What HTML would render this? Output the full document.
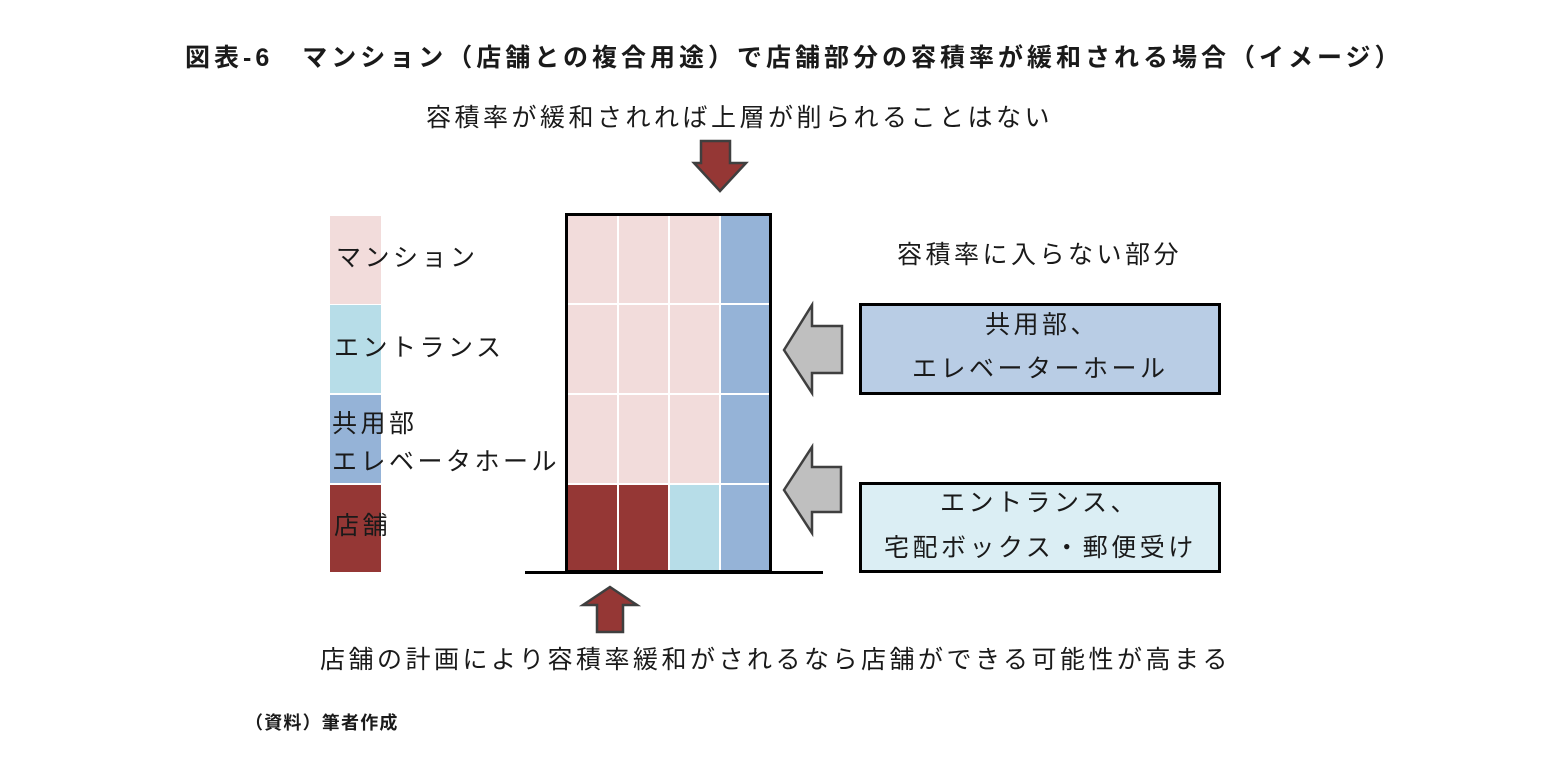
<!DOCTYPE html>
<html><head><meta charset="utf-8"><style>
body{margin:0;width:1566px;height:774px;background:#fff;position:relative;overflow:hidden;font-family:"Liberation Sans","Noto Sans CJK JP",sans-serif;color:#1a1a1a}
.t{position:absolute;white-space:nowrap;line-height:1;letter-spacing:3.5px}
</style></head><body>
<div class="t" style="left:185px;top:46px;font-size:25px;font-weight:bold;letter-spacing:4px;">図表-6　マンション（店舗との複合用途）で店舗部分の容積率が緩和される場合（イメージ）</div>
<div class="t" style="left:426px;top:106px;font-size:25px;">容積率が緩和されれば上層が削られることはない</div>
<div class="t" style="left:897px;top:243px;font-size:25px;">容積率に入らない部分</div>
<div class="t" style="left:320px;top:648px;font-size:25px;">店舗の計画により容積率緩和がされるなら店舗ができる可能性が高まる</div>
<div class="t" style="left:245px;top:714px;font-size:18px;font-weight:bold;letter-spacing:1.2px;">（資料）筆者作成</div>
<svg width="1566" height="774" style="position:absolute;left:0;top:0">
<rect x="330" y="216" width="51" height="88" fill="#f2dcdb"/>
<rect x="330" y="305" width="51" height="88" fill="#b7dde8"/>
<rect x="330" y="395" width="51" height="88" fill="#95b3d7"/>
<rect x="330" y="485" width="51" height="87" fill="#953735"/>
<g stroke="#fff" stroke-width="2">
<rect x="567" y="215" width="51" height="89" fill="#f2dcdb"/><rect x="618" y="215" width="51" height="89" fill="#f2dcdb"/><rect x="669" y="215" width="51" height="89" fill="#f2dcdb"/><rect x="720" y="215" width="50" height="89" fill="#95b3d7"/>
<rect x="567" y="304" width="51" height="90" fill="#f2dcdb"/><rect x="618" y="304" width="51" height="90" fill="#f2dcdb"/><rect x="669" y="304" width="51" height="90" fill="#f2dcdb"/><rect x="720" y="304" width="50" height="90" fill="#95b3d7"/>
<rect x="567" y="394" width="51" height="90" fill="#f2dcdb"/><rect x="618" y="394" width="51" height="90" fill="#f2dcdb"/><rect x="669" y="394" width="51" height="90" fill="#f2dcdb"/><rect x="720" y="394" width="50" height="90" fill="#95b3d7"/>
<rect x="567" y="484" width="51" height="88" fill="#953735"/><rect x="618" y="484" width="51" height="88" fill="#953735"/><rect x="669" y="484" width="51" height="88" fill="#b7dde8"/><rect x="720" y="484" width="50" height="88" fill="#95b3d7"/>
</g>
<rect x="566.5" y="214.5" width="204" height="357" fill="none" stroke="#000" stroke-width="3"/>
<line x1="525" y1="572.5" x2="823" y2="572.5" stroke="#000" stroke-width="3"/>
<polygon points="701,141 730,141 730,163 746,163 720,191 694,163 701,163" fill="#953735" stroke="#3f3f3f" stroke-width="2.5"/>
<polygon points="610,587 637,605 623,605 623,632 597,632 597,605 583,605" fill="#953735" stroke="#3f3f3f" stroke-width="2.5"/>
<polygon points="784,350 812,305 812,326 842,326 842,373 812,373 812,393" fill="#bfbfbf" stroke="#3f3f3f" stroke-width="2.5"/>
<polygon points="784,490 812,447 812,467 841,467 841,512 812,512 812,533" fill="#bfbfbf" stroke="#3f3f3f" stroke-width="2.5"/>
<rect x="860.5" y="304.5" width="359" height="89" fill="#b9cde5" stroke="#000" stroke-width="3"/>
<rect x="860.5" y="483.5" width="359" height="88" fill="#dbeef4" stroke="#000" stroke-width="3"/>
</svg>
<div class="t" style="left:336px;top:246px;font-size:25px;">マンション</div>
<div class="t" style="left:334px;top:336px;font-size:25px;">エントランス</div>
<div class="t" style="left:332px;top:412px;font-size:25px;">共用部</div>
<div class="t" style="left:332px;top:450px;font-size:25px;">エレベータホール</div>
<div class="t" style="left:334px;top:514px;font-size:25px;">店舗</div>
<div class="t" style="left:985px;top:313px;font-size:25px;">共用部、</div>
<div class="t" style="left:912px;top:357px;font-size:25px;">エレベーターホール</div>
<div class="t" style="left:940px;top:491px;font-size:25px;">エントランス、</div>
<div class="t" style="left:884px;top:536px;font-size:25px;">宅配ボックス・郵便受け</div>
</body></html>
